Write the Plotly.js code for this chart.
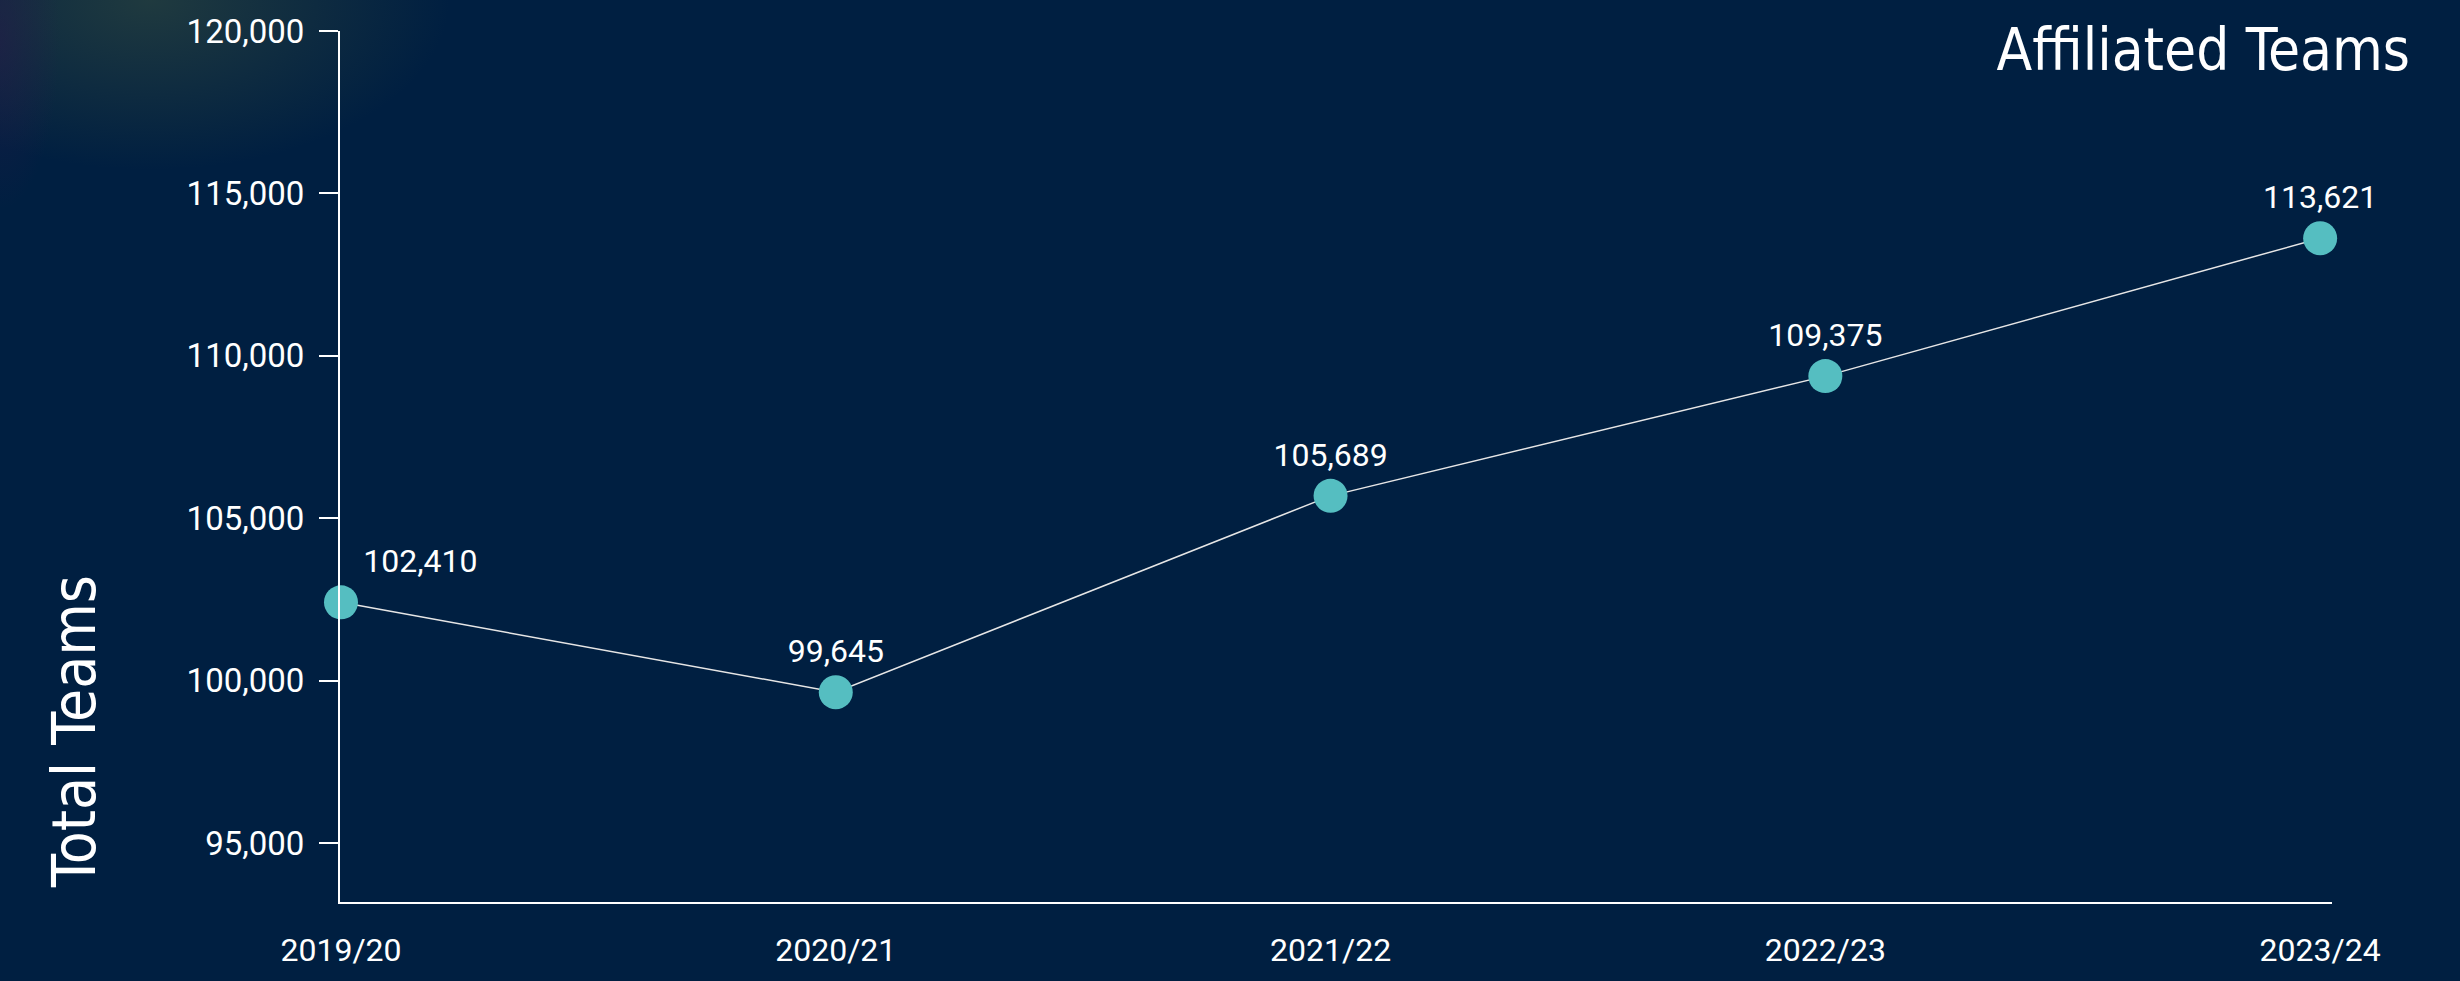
<!DOCTYPE html>
<html>
<head>
<meta charset="utf-8">
<script src="https://cdn.plot.ly/plotly-3.0.1.min.js"></script>
<style>
  html, body { margin: 0; padding: 0; background: #001f41; }
  #chart {
    width: 2460px; height: 981px;
    background:
      radial-gradient(ellipse 60px 170px at 0px 40px, rgba(45,25,75,0.45), rgba(0,31,65,0) 100%),
      radial-gradient(ellipse 300px 170px at 150px 0px, rgba(75,95,60,0.42), rgba(0,31,65,0) 100%),
      #001f41;
  }
</style>
</head>
<body>
<div id="chart"></div>
<script>
const seasons = ['2019/20', '2020/21', '2021/22', '2022/23', '2023/24'];
const totalTeams = [102410, 99645, 105689, 109375, 113621];
const yTickVals = [95000, 100000, 105000, 110000, 115000, 120000];
const chartTitle = 'Affiliated Teams';
const yTitle = 'Total Teams';

const valueLabels = totalTeams.map(v => v.toLocaleString('en-US'));
const labelPositions = seasons.map((s, i) => i === 0 ? 'top right' : 'top center');

const narrow = '"Liberation Sans Narrow", "DejaVu Sans Condensed", Roboto, sans-serif';

const trace = {
  x: seasons,
  y: totalTeams,
  type: 'scatter',
  mode: 'lines+markers+text',
  text: valueLabels,
  textposition: labelPositions,
  textfont: { family: 'Roboto, sans-serif', size: 32, color: '#ffffff' },
  line: { color: '#e6e6e6', width: 1.5 },
  marker: { size: 34, color: '#55BEC1', line: { width: 0 } },
  cliponaxis: false,
  hoverinfo: 'skip'
};

const layout = {
  width: 2460,
  height: 981,
  margin: { l: 340, r: 128, t: 31, b: 79 },
  paper_bgcolor: 'rgba(0,0,0,0)',
  plot_bgcolor: 'rgba(0,0,0,0)',
  showlegend: false,
  hovermode: false,
  title: {
    text: chartTitle,
    xref: 'container', x: 2410 / 2460, xanchor: 'right',
    yref: 'container', y: 1 - 50 / 981, yanchor: 'middle',
    font: { family: narrow, size: 58, color: '#ffffff' }
  },
  xaxis: {
    type: 'category',
    categoryorder: 'array',
    categoryarray: seasons,
    range: [-0.002, 4.024],
    showgrid: false,
    zeroline: false,
    showline: true,
    linecolor: '#ffffff',
    linewidth: 2,
    ticks: '',
    ticklabelstandoff: 19,
    tickfont: { family: 'Roboto, sans-serif', size: 32, color: '#ffffff' }
  },
  yaxis: {
    range: [93185, 120000],
    tickvals: yTickVals,
    tickformat: ',d',
    showgrid: false,
    zeroline: false,
    showline: true,
    linecolor: '#ffffff',
    linewidth: 2,
    ticks: 'outside',
    ticklen: 19,
    tickwidth: 2,
    tickcolor: '#ffffff',
    ticklabelstandoff: 8,
    tickfont: { family: 'Roboto, sans-serif', size: 33, color: '#ffffff' }
  },
  annotations: [{
    text: yTitle,
    xref: 'paper', x: 0, xshift: -266, xanchor: 'center',
    yref: 'paper', y: (902 - 732) / 871, yanchor: 'middle',
    textangle: -90,
    showarrow: false,
    font: { family: narrow, size: 60, color: '#ffffff' }
  }]
};

Plotly.newPlot('chart', [trace], layout, { displayModeBar: false, staticPlot: true });
</script>
</body>
</html>
